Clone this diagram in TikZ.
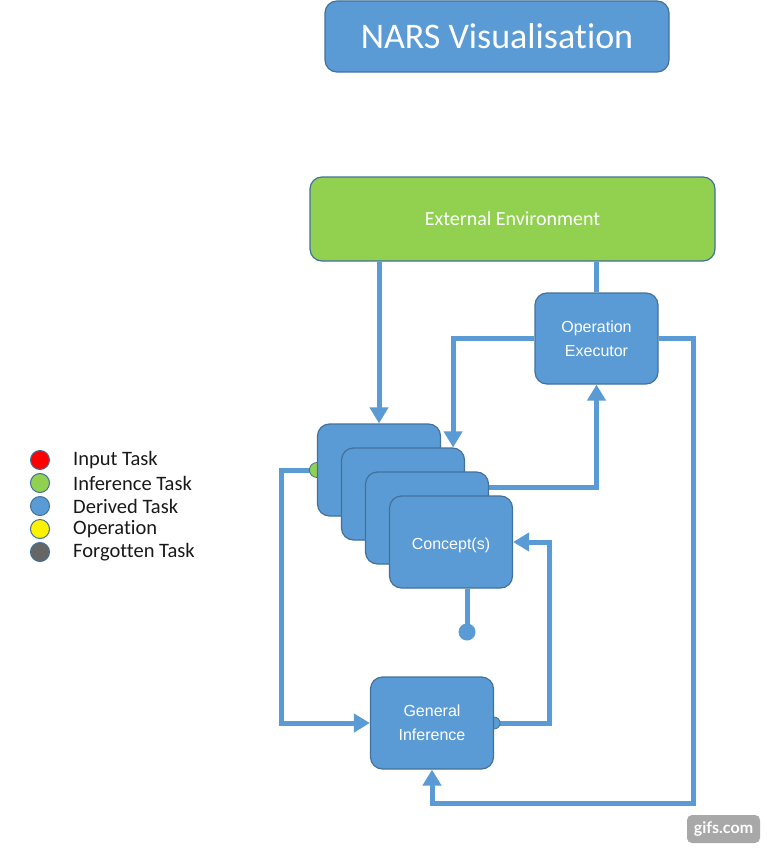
\documentclass[tikz,border=0pt]{standalone}
\usepackage{fontspec}
\setmainfont[Ligatures={NoCommon,NoContextual}]{Carlito}
\newfontfamily\arialf{Liberation Sans}
\newfontfamily\gifsf{Lato}
\usetikzlibrary{arrows.meta}
\definecolor{boxblue}{HTML}{5B9BD5}
\definecolor{edgeblue}{HTML}{41719C}
\definecolor{envgreen}{HTML}{92D050}
\definecolor{forgot}{HTML}{666666}
\definecolor{gifgray}{HTML}{A8A8A8}
\begin{document}
\begin{tikzpicture}[x=1pt,y=-1pt,
  box/.style={draw=edgeblue, line width=1.2pt, fill=boxblue, rounded corners=12pt,
    text=white, inner sep=0pt, align=center},
  concept/.style={box, minimum width=123pt, minimum height=92pt,
    font=\arialf\fontsize{16}{24}\selectfont},
  wire/.style={draw=boxblue, line width=5pt},
  arr/.style={wire, -{Triangle[length=16pt,width=18pt]}},
  legdot/.style={circle, draw=edgeblue, line width=1pt, minimum size=19pt, inner sep=0pt},
  legtext/.style={anchor=west, inner sep=0pt, font=\fontsize{20.5}{23}\selectfont, text=black!90}]
\useasboundingbox (0,0) rectangle (766,848);
\fill[white] (0,0) rectangle (766,848);

% title
\node[box, minimum width=344pt, minimum height=71pt, font=\fontsize{36}{42}\selectfont] (title) at (497,36.5) {NARS Visualisation};

% main node positions
\path (512.5,219) coordinate (extc) (596.5,338.5) coordinate (opc)
      (379,470) coordinate (c1c) (403,494) coordinate (c2c)
      (427,518) coordinate (c3c) (451,542) coordinate (c4c)
      (432,723) coordinate (gic);

\node[box, fill=envgreen, minimum width=405pt, minimum height=84pt, font=\fontsize{20}{24}\selectfont] (ext) at (extc) {External Environment};
\node[concept, minimum height=91pt, draw=none, fill=none] (op) at (opc) {};
\node[concept, draw=none, fill=none] (c1) at (c1c) {};
\node[concept, draw=none, fill=none] (c2) at (c2c) {};
\node[concept, draw=none, fill=none] (c3) at (c3c) {};
\node[concept, draw=none, fill=none] (c4) at (c4c) {};
\node[concept, draw=none, fill=none] (gi) at (gic) {};

% connectors
\draw[arr] (ext.south -| c1.north) -- (c1.north);
\draw[wire] (ext.south -| op.north) -- (op.north);
\coordinate (c2in) at ([xshift=-12pt]c2.north east);
\draw[arr] (op.west) -| (c2in);
\coordinate (loopB) at (693,803);
\draw[arr] (op.east) -| (loopB) -| (gi.south);
\coordinate (c3out) at ([yshift=-16pt]c3.north east);
\draw[arr] (c3out) -| (op.south);
\coordinate (giR) at ([xshift=55pt]gi.east);
\draw[arr] (gi.east) -- (giR) |- (c4.east);
\coordinate (c1L) at ([xshift=-35pt]c1.west);
\draw[arr] (c1.west) -- (c1L) |- (gi.west);
\node[circle, fill=boxblue, minimum size=17pt, inner sep=0pt] (dotn) at (467,632) {};
\draw[wire] (c4.south -| dotn) -- (dotn.center);

% bumps
\draw[fill=envgreen, draw=edgeblue, line width=0.8pt] (c1.west) circle (7.5pt);
\draw[fill=boxblue, draw=edgeblue, line width=0.8pt] (gi.east) circle (6pt);

% visible boxes
\node[concept, minimum height=91pt] (opbox) at (op) {Operation\\Executor};
\node[concept] (c1box) at (c1) {};
\node[concept] (c2box) at (c2) {};
\node[concept] (c3box) at (c3) {};
\node[concept] (c4box) at (c4) {};
\node[text=white, inner sep=0pt, font=\arialf\fontsize{16}{24}\selectfont] (c4txt) at ([yshift=-3pt]c4.center) {Concept(s)};
\node[concept] (gibox) at (gi) {General\\Inference};

% legend
\node[legdot, fill=red] (l1) at (40,460) {};
\node[legdot, fill=envgreen] (l2) at (40,483) {};
\node[legdot, fill=boxblue] (l3) at (40,506) {};
\node[legdot, fill=yellow] (l4) at (40,529) {};
\node[legdot, fill=forgot] (l5) at (40,552) {};
\node[legtext] (t1) at (73,460) {Input Task};
\node[legtext] (t2) at (73,483) {Inference Task};
\node[legtext] (t3) at (73,506) {Derived Task};
\node[legtext] (t4) at (73,529) {Operation};
\node[legtext] (t5) at (73,552) {Forgotten Task};

% watermark
\node[fill=gifgray, rounded corners=5pt, text=white, inner sep=0pt,
  minimum width=73pt, minimum height=28pt,
  font=\gifsf\bfseries\fontsize{16}{18}\selectfont] (gifs) at (723.5,829) {gifs.com};
\end{tikzpicture}
\end{document}
